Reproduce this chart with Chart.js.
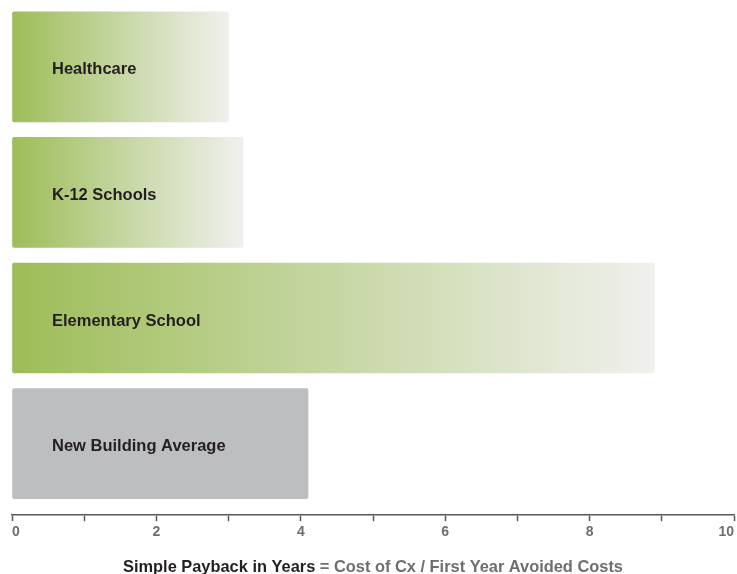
<!DOCTYPE html>
<html>
<head>
<meta charset="utf-8">
<script src="https://cdn.jsdelivr.net/npm/chart.js@4.4.1/dist/chart.umd.min.js"></script>
<style>
  html, body { margin: 0; padding: 0; background: #fff; }
  #wrap { width: 737px; height: 574px; }
</style>
</head>
<body>
<div id="wrap"><canvas id="grafico"></canvas></div>
<script>
// categorias e valores (anos de retorno)
var categories = ['Healthcare', 'K-12 Schools', 'Elementary School', 'New Building Average'];
var paybackYears = [3.0, 3.2, 8.9, 4.1];
var xTickLabels = [0, 2, 4, 6, 8, 10];

var titleDark = 'Simple Payback in Years';
var titleGray = ' = Cost of Cx / First Year Avoided Costs';

var green = '#9dbd58';
var fade = '#f0f0ee';
var benchmarkGray = '#bdbec0';

// cor de cada barra: gradiente verde -> cinza claro, media em cinza
function barColor(ctx) {
    if (ctx.type !== 'data') return green;
    var i = ctx.dataIndex;
    if (categories[i] === 'New Building Average') return benchmarkGray;
    var chart = ctx.chart;
    var x = chart.scales.x;
    if (!chart.chartArea || !x) return green;
    var x0 = x.getPixelForValue(0);
    var x1 = x.getPixelForValue(paybackYears[i]);
    var g = chart.ctx.createLinearGradient(x0, 0, x1, 0);
    g.addColorStop(0, green);
    g.addColorStop(1, fade);
    return g;
}

// rotulos dentro das barras
var barLabels = {
    id: 'barLabels',
    afterDatasetsDraw: function(chart) {
        var ctx = chart.ctx;
        var x = chart.scales.x;
        var meta = chart.getDatasetMeta(0);
        ctx.save();
        ctx.font = 'bold 16.5px "Liberation Sans", Arial, sans-serif';
        ctx.fillStyle = '#231f20';
        ctx.textAlign = 'left';
        ctx.textBaseline = 'middle';
        meta.data.forEach(function(bar, i) {
            ctx.fillText(categories[i], x.getPixelForValue(0) + 40, bar.y + 3);
        });
        ctx.restore();
    }
};

// titulo do eixo em duas cores
var axisTitle = {
    id: 'axisTitle',
    afterDraw: function(chart) {
        var ctx = chart.ctx;
        var area = chart.chartArea;
        ctx.save();
        ctx.font = 'bold 16.4px "Liberation Sans", Arial, sans-serif';
        ctx.textBaseline = 'middle';
        ctx.textAlign = 'left';
        var w1 = ctx.measureText(titleDark).width;
        var w2 = ctx.measureText(titleGray).width;
        var start = (area.left + area.right) / 2 - (w1 + w2) / 2;
        ctx.fillStyle = '#231f20';
        ctx.fillText(titleDark, start, 567);
        ctx.fillStyle = '#6d6e71';
        ctx.fillText(titleGray, start + w1, 567);
        ctx.restore();
    }
};

var data = {
    datasets: [{
        data: paybackYears.map(function(v, i) { return { x: v, y: i }; }),
        backgroundColor: barColor,
        borderWidth: 0,
        borderRadius: 2,
        borderSkipped: false,
        barThickness: 110
    }]
};

var options = {
    indexAxis: 'y',
    responsive: true,
    maintainAspectRatio: false,
    animation: false,
    layout: { padding: { top: 4, left: 12, right: 3, bottom: 30 } },
    plugins: {
        legend: { display: false },
        tooltip: { enabled: false }
    },
    scales: {
        x: {
            type: 'linear',
            min: 0,
            max: 10,
            position: 'bottom',
            grid: {
                display: true,
                drawOnChartArea: false,
                drawTicks: true,
                tickLength: 6,
                tickWidth: 1.5,
                color: '#58595b'
            },
            border: { display: true, color: '#58595b', width: 1.5 },
            ticks: {
                stepSize: 1,
                autoSkip: false,
                maxRotation: 0,
                padding: 3,
                align: 'inner',
                color: '#6d6e71',
                font: { family: '"Liberation Sans", Arial, sans-serif', size: 14, weight: 'bold' },
                callback: function(value) {
                    return xTickLabels.indexOf(value) >= 0 ? String(value) : '';
                }
            }
        },
        y: {
            type: 'linear',
            reverse: true,
            offset: false,
            min: -0.5,
            max: 3.57,
            display: false
        }
    }
};

var ctx = document.querySelector('#grafico').getContext('2d');
var barChart = new Chart(ctx, {
    type: 'bar',
    data: data,
    options: options,
    plugins: [barLabels, axisTitle]
});
</script>
</body>
</html>
